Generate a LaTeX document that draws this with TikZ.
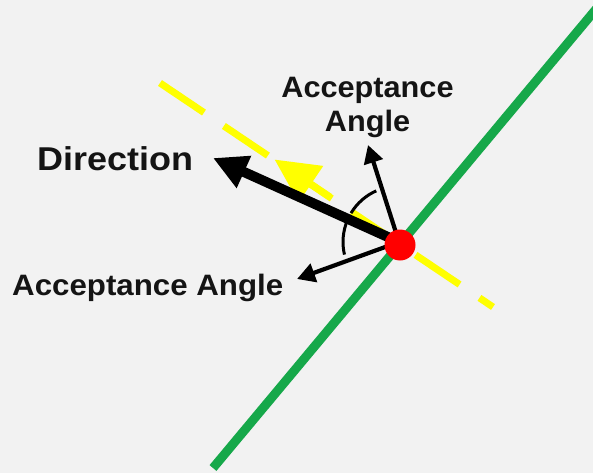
\documentclass[tikz,border=0pt]{standalone}
\usepackage{fontspec}
\setmainfont{Liberation Sans}
\usetikzlibrary{arrows.meta}
\definecolor{bgc}{RGB}{242,242,242}
\definecolor{fiber}{RGB}{22,168,74}
\definecolor{lbl}{RGB}{20,20,20}
\definecolor{ray}{RGB}{255,255,0}
\tikzset{
  label text/.style={text=lbl, inner sep=0pt, font=\bfseries},
  thin arrow/.style={line width=4.2pt, -{Triangle[length=18pt,width=19pt]}},
  angle arc/.style={line width=3pt},
}
\begin{document}
\begin{tikzpicture}[x=1pt,y=-1pt]
\useasboundingbox (0,0) rectangle (593,473);
\fill[bgc] (0,0) rectangle (593,473);
\clip (0,0) rectangle (593,473);
% coordinates
\coordinate (C) at (399,242);
\coordinate (gA) at (213,468);
\coordinate (gB) at (597,8);
\coordinate (yA) at (160,83);
\coordinate (yB) at (493,307);
\coordinate (yTail) at (330,197);
\coordinate (yTip) at (274.5,159.5);
\coordinate (dirTip) at (213,158);
\coordinate (upTip) at (368,145);
\coordinate (lowTip) at (297,279);
% fiber line
\draw[fiber, line width=9pt] (gA) -- (gB);
% yellow dashed axis
\draw[ray, line width=7pt, dash pattern=on 53pt off 24pt] (yA) -- (yB);
\draw[ray, line width=7pt, -{Triangle[length=44pt,width=42pt]}] (yTail) -- (yTip);
% arrows
\draw[line width=10pt, -{Triangle[length=34pt,width=33pt]}] (C) -- (dirTip);
\draw[thin arrow] (C) -- (upTip);
\draw[thin arrow] (C) -- (lowTip);
% arcs
\draw[angle arc] (C) ++(211:56) arc[start angle=211, end angle=246, radius=56];
\draw[angle arc] (C) ++(167:56) arc[start angle=167, end angle=203, radius=56];
% red point
\node[circle, fill=red, minimum size=31pt, inner sep=0pt] (dot) at (400,245) {};
% labels
\node[label text, anchor=base west, xscale=1.09, font=\fontsize{33}{36}\selectfont\bfseries] (dir) at (37,170) {Direction};
\node[label text, anchor=north, align=center, xscale=1.04, font=\fontsize{29.5}{34}\selectfont\bfseries] (accTop) at (367.5,77) {Acceptance\\Angle};
\node[label text, anchor=base west, xscale=1.06, font=\fontsize{29.5}{34}\selectfont\bfseries] (accLow) at (12,295) {Acceptance Angle};
\end{tikzpicture}
\end{document}
